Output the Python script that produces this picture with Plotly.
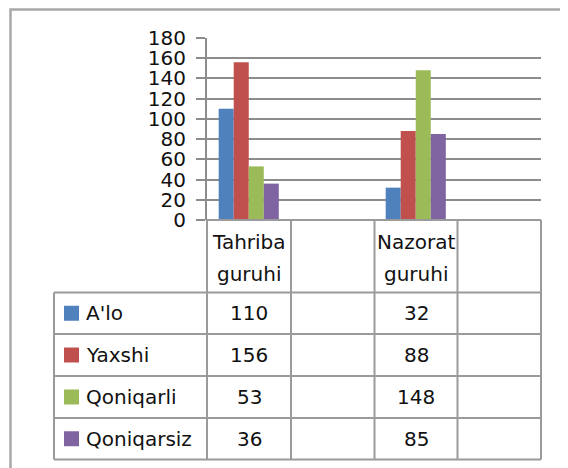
import plotly.graph_objects as go

categories = ["Tahriba guruhi", " ", "Nazorat guruhi", "  "]
header_lines = [["Tahriba", "guruhi"], ["Nazorat", "guruhi"]]
series_names = ["A'lo", "Yaxshi", "Qoniqarli", "Qoniqarsiz"]
tahriba = [110, 156, 53, 36]
nazorat = [32, 88, 148, 85]
colors = ["#4F81BD", "#C0504D", "#9BBB59", "#8064A2"]
y_ticks = [0, 20, 40, 60, 80, 100, 120, 140, 160, 180]

OFF = 8  # page body margin offset
W, H = 568 - OFF, 468 - OFF
L, R, T, B = 207, 541, 38, 220
FONT = "DejaVu Sans"
FS = 20
GRID = "#8c8c8c"
TBL = "#9a9a9a"


def px(x):
    return (x - L) / (R - L)


def py(y):
    return (B - y) / (B - T)


fig = go.Figure()
for i, name in enumerate(series_names):
    fig.add_trace(go.Bar(
        x=categories,
        y=[tahriba[i], None, nazorat[i], None],
        name=name,
        marker=dict(color=colors[i], line=dict(width=0)),
        showlegend=False,
    ))

shapes = []
# outer border (extends past the right and bottom edges)
shapes.append(dict(type="rect", xref="paper", yref="paper",
                   x0=px(10.5), x1=px(590), y0=py(9.5), y1=py(490),
                   line=dict(color="#a8a8a8", width=2.5)))


def hline(x0, x1, y):
    shapes.append(dict(type="line", xref="paper", yref="paper",
                       x0=px(x0), x1=px(x1), y0=py(y), y1=py(y),
                       line=dict(color=TBL, width=2)))


def vline(x, y0, y1):
    shapes.append(dict(type="line", xref="paper", yref="paper",
                       x0=px(x), x1=px(x), y0=py(y0), y1=py(y1),
                       line=dict(color=TBL, width=2)))


col_x = [207, 291, 374.5, 457.5, 541]
row_y = [292.5, 334, 376, 418, 459.5]
hline(207, 541, 220)
for y in row_y:
    hline(54, 541, y)
for x in col_x:
    vline(x, 220, 459.5)
vline(54, 292.5, 459.5)

annotations = []
font = dict(family=FONT, size=FS, color="#111111")
for j, lines in enumerate(header_lines):
    cx = (col_x[2 * j] + col_x[2 * j + 1]) / 2
    for k, t in enumerate(lines):
        annotations.append(dict(xref="paper", yref="paper", x=px(cx), y=py([242, 274][k]),
                                text=t, showarrow=False, xanchor="center", yanchor="middle",
                                font=font))
for i, name in enumerate(series_names):
    cy = (row_y[i] + row_y[i + 1]) / 2
    shapes.append(dict(type="rect", xref="paper", yref="paper",
                       x0=px(64), x1=px(79), y0=py(cy - 7.5), y1=py(cy + 7.5),
                       fillcolor=colors[i], line=dict(width=0)))
    annotations.append(dict(xref="paper", yref="paper", x=px(84), y=py(cy),
                            text=name, showarrow=False, xanchor="left", yanchor="middle",
                            font=font))
    for j, vals in enumerate([tahriba, nazorat]):
        cx = (col_x[2 * j] + col_x[2 * j + 1]) / 2
        annotations.append(dict(xref="paper", yref="paper", x=px(cx), y=py(cy),
                                text=str(vals[i]), showarrow=False, xanchor="center",
                                yanchor="middle", font=font))

fig.update_layout(
    width=W, height=H,
    margin=dict(l=L - OFF, r=W - (R - OFF), t=T - OFF, b=H - (B - OFF), pad=0),
    paper_bgcolor="white", plot_bgcolor="white",
    barmode="group", bargap=0.28, bargroupgap=0,
    shapes=shapes, annotations=annotations,
    font=dict(family=FONT, size=FS, color="#111111"),
    xaxis=dict(showticklabels=False, showgrid=False, zeroline=False, showline=False,
               ticks="", fixedrange=True),
    yaxis=dict(range=[0, 180], tickvals=y_ticks, showgrid=True, gridcolor=GRID, gridwidth=2,
               zeroline=False, showline=True, linecolor=GRID, linewidth=2,
               ticks="outside", ticklen=9, tickwidth=2, tickcolor=GRID,
               ticklabelstandoff=6,
               tickfont=dict(family=FONT, size=FS, color="#111111")),
)

fig.write_html("out.html")
